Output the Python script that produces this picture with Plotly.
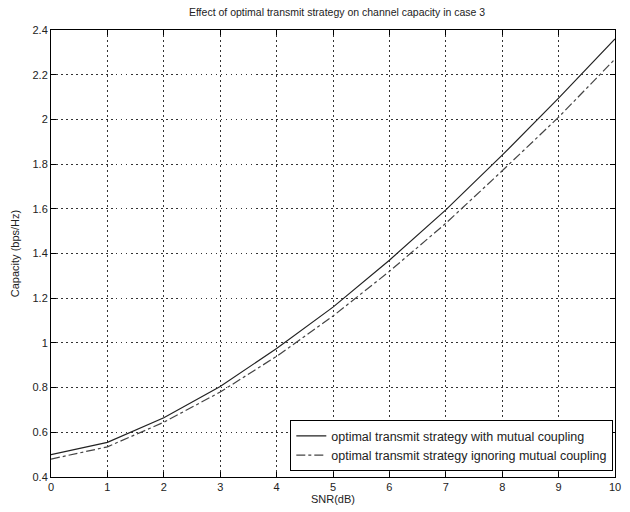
import plotly.graph_objects as go

snr_db = [0, 1, 2, 3, 4, 5, 6, 7, 8, 9, 10]
cap_with_coupling = [0.50, 0.555, 0.665, 0.805, 0.975, 1.16, 1.37, 1.595, 1.84, 2.095, 2.36]
cap_ignoring_coupling = [0.48, 0.535, 0.645, 0.78, 0.94, 1.12, 1.32, 1.535, 1.77, 2.01, 2.27]

x_ticks = [0, 1, 2, 3, 4, 5, 6, 7, 8, 9, 10]
y_ticks = [0.4, 0.6, 0.8, 1.0, 1.2, 1.4, 1.6, 1.8, 2.0, 2.2, 2.4]
y_tick_labels = ["0.4", "0.6", "0.8", "1", "1.2", "1.4", "1.6", "1.8", "2", "2.2", "2.4"]

font_family = "Liberation Sans, Arial, sans-serif"

fig = go.Figure()
fig.add_trace(go.Scatter(
    x=snr_db, y=cap_with_coupling, mode="lines",
    name="optimal transmit strategy with mutual coupling",
    line=dict(color="#222222", width=1.2, dash="solid"),
))
fig.add_trace(go.Scatter(
    x=snr_db, y=cap_ignoring_coupling, mode="lines",
    name="optimal transmit strategy ignoring mutual coupling",
    line=dict(color="#444444", width=1.2, dash="dashdot"),
))

axis_common = dict(
    showline=True, linecolor="black", linewidth=1, mirror="ticks",
    ticks="inside", ticklen=5, tickcolor="black",
    showgrid=True, gridcolor="#333333", gridwidth=1, griddash="1.5px,3.5px",
    zeroline=False,
    tickfont=dict(family=font_family, size=11, color="#222222"),
)

fig.update_xaxes(
    range=[0, 10], tickvals=x_ticks,
    title=dict(text="SNR(dB)", font=dict(family=font_family, size=11, color="#222222"), standoff=2),
    **axis_common,
)
fig.update_yaxes(
    range=[0.4, 2.4], tickvals=y_ticks, ticktext=y_tick_labels,
    title=dict(text="Capacity (bps/Hz)", font=dict(family=font_family, size=11, color="#222222"), standoff=10),
    **axis_common,
)

fig.update_layout(
    width=630, height=512,
    margin=dict(l=51, r=9, t=30, b=32),
    paper_bgcolor="white", plot_bgcolor="white",
    title=dict(
        text="Effect of optimal transmit strategy on channel capacity in case 3",
        font=dict(family=font_family, size=10.5, color="#222222"),
        x=0.535, xanchor="center", y=0.975, yanchor="middle",
    ),
    legend=dict(
        x=0.997, y=0.013, xanchor="right", yanchor="bottom",
        bgcolor="white", bordercolor="black", borderwidth=1,
        font=dict(family=font_family, size=12.5, color="#222222"),
        tracegroupgap=0, itemwidth=30,
    ),
    showlegend=True,
)

fig.write_html("out.html")
